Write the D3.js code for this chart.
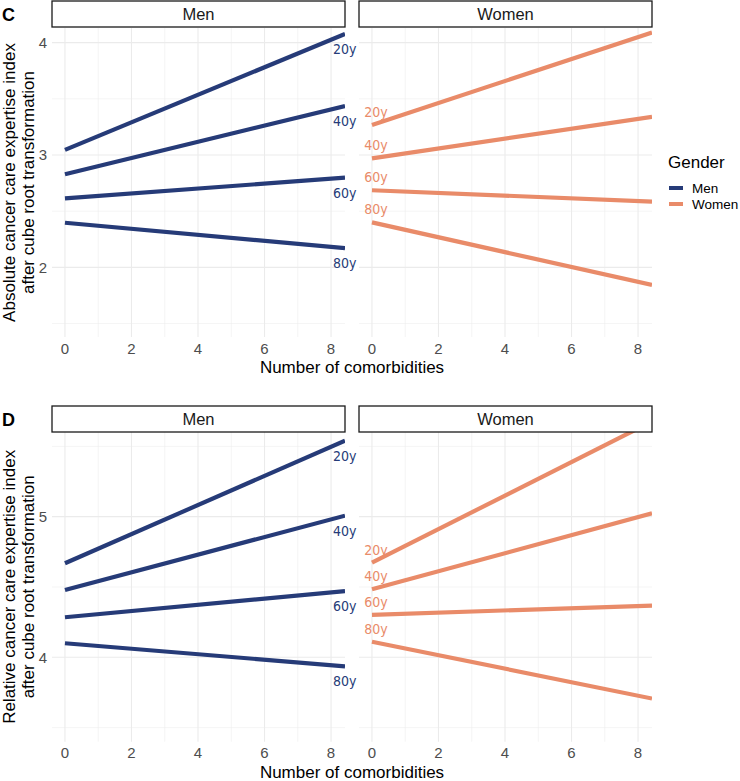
<!DOCTYPE html>
<html>
<head>
<meta charset="utf-8">
<script src="https://cdn.jsdelivr.net/npm/d3@7"></script>
<style>
	body { margin: 0; background: #fff; }
	svg { display: block; font-family: 'Liberation Sans', Arial, sans-serif; }
	.age { font-family: 'DejaVu Sans Condensed', 'DejaVu Sans', sans-serif; font-stretch: condensed; }
</style>
</head>
<body>
<svg id="chart" width="740" height="781"></svg>
<script>
// fitted lines: value at 0 comorbidities and at the right panel edge
const comorbidities = [0, 8.42]
const ageGroups = ['20y', '40y', '60y', '80y']
const genders = ['Men', 'Women']
const xTicks = [0, 2, 4, 6, 8]
const xMinor = [1, 3, 5, 7]

const absoluteMen = [[3.045, 4.077], [2.828, 3.436], [2.614, 2.798], [2.397, 2.17]]
const absoluteWomen = [[3.267, 4.09], [2.97, 3.34], [2.686, 2.585], [2.40, 1.843]]
const relativeMen = [[4.669, 5.54], [4.479, 5.007], [4.285, 4.47], [4.10, 3.936]]
const relativeWomen = [[4.673, 5.677], [4.484, 5.024], [4.302, 4.368], [4.111, 3.707]]

const absTicks = [2, 3, 4]
const absMinor = [1.5, 2.5, 3.5]
const relTicks = [4, 5]
const relMinor = [3.5, 4.5, 5.5]

const colors = { Men: '#263b78', Women: '#e98b69' }

let svg = d3.select('#chart')

// one row of the figure (C or D)
let rows = [
	{ tag: 'C', title: ['Absolute cancer care expertise index', 'after cube root transformation'],
		data: { Men: absoluteMen, Women: absoluteWomen }, ticks: absTicks, minor: absMinor,
		domain: [1.38, 4.13], top: 28, bottom: 337, strip: 1 },
	{ tag: 'D', title: ['Relative cancer care expertise index', 'after cube root transformation'],
		data: { Men: relativeMen, Women: relativeWomen }, ticks: relTicks, minor: relMinor,
		domain: [3.40, 5.602], top: 432, bottom: 741.7, strip: 406 }
]

let panelX = { Men: [52, 345], Women: [359, 652] }

rows.forEach((row, ri) => {
	let y = d3.scaleLinear().domain(row.domain).range([row.bottom, row.top])

	genders.forEach(g => {
		let x = d3.scaleLinear().domain([-0.39, 8.42]).range(panelX[g])
		let pg = svg.append('g')

		// grid
		pg.selectAll('.vminor').data(xMinor).enter().append('line')
		.attr('x1', d => x(d)).attr('x2', d => x(d))
		.attr('y1', row.top).attr('y2', row.bottom)
		.attr('stroke', '#ebebeb').attr('stroke-width', 0.55)
		pg.selectAll('.hminor').data(row.minor).enter().append('line')
		.attr('x1', panelX[g][0]).attr('x2', panelX[g][1])
		.attr('y1', d => y(d)).attr('y2', d => y(d))
		.attr('stroke', '#ebebeb').attr('stroke-width', 0.55)
		pg.selectAll('.vmajor').data(xTicks).enter().append('line')
		.attr('x1', d => x(d)).attr('x2', d => x(d))
		.attr('y1', row.top).attr('y2', row.bottom)
		.attr('stroke', '#ebebeb').attr('stroke-width', 1.1)
		pg.selectAll('.hmajor').data(row.ticks).enter().append('line')
		.attr('x1', panelX[g][0]).attr('x2', panelX[g][1])
		.attr('y1', d => y(d)).attr('y2', d => y(d))
		.attr('stroke', '#ebebeb').attr('stroke-width', 1.1)

		// clip lines to the panel
		let clipId = `clip-${ri}-${g}`
		svg.append('clipPath').attr('id', clipId)
		.append('rect')
		.attr('x', panelX[g][0]).attr('y', row.top)
		.attr('width', panelX[g][1] - panelX[g][0])
		.attr('height', row.bottom - row.top)

		let line = d3.line().x((d, i) => x(comorbidities[i])).y(d => y(d))
		pg.append('g').attr('clip-path', `url(#${clipId})`)
		.selectAll('path').data(row.data[g]).enter().append('path')
		.attr('d', d => line(d))
		.attr('fill', 'none')
		.attr('stroke', colors[g])
		.attr('stroke-width', 4.2)

		// age labels: men at the right end, women at the start
		pg.selectAll('.age').data(row.data[g]).enter().append('text')
		.attr('class', 'age')
		.attr('x', g === 'Men' ? x(8.06) : x(-0.23))
		.attr('y', d => g === 'Men' ? y(d[1]) + 20 : y(d[0]) - 8)
		.attr('fill', colors[g])
		.attr('font-size', 14)
		.text((d, i) => ageGroups[i])

		// strip
		pg.append('rect')
		.attr('x', panelX[g][0]).attr('y', row.strip)
		.attr('width', panelX[g][1] - panelX[g][0]).attr('height', 26)
		.attr('fill', '#fff').attr('stroke', '#1a1a1a').attr('stroke-width', 1.3)
		pg.append('text')
		.attr('x', (panelX[g][0] + panelX[g][1]) / 2).attr('y', row.strip + 19)
		.attr('text-anchor', 'middle').attr('font-size', 16.5).attr('fill', '#1a1a1a')
		.text(g)

		// x tick labels
		pg.selectAll('.xt').data(xTicks).enter().append('text')
		.attr('x', d => x(d)).attr('y', row.bottom + 16.5)
		.attr('text-anchor', 'middle').attr('font-size', 15).attr('fill', '#4d4d4d')
		.text(d => d)
	})

	// y tick labels
	svg.append('g').selectAll('text').data(row.ticks).enter().append('text')
	.attr('x', 47).attr('y', d => y(d) + 5.3)
	.attr('text-anchor', 'end').attr('font-size', 15).attr('fill', '#4d4d4d')
	.text(d => d)

	// y title
	let cy = (row.top + row.bottom) / 2
	row.title.forEach((t, i) => {
		svg.append('text')
		.attr('transform', `translate(${15 + i * 18.5}, ${cy}) rotate(-90)`)
		.attr('text-anchor', 'middle').attr('font-size', 17)
		.text(t)
	})

	// x title
	svg.append('text')
	.attr('x', 352).attr('y', row.bottom + 36)
	.attr('text-anchor', 'middle').attr('font-size', 17)
	.text('Number of comorbidities')

	// row tag
	svg.append('text')
	.attr('x', 2).attr('y', row.strip + 20)
	.attr('font-size', 18).attr('font-weight', 'bold')
	.text(row.tag)
})

// legend
let legend = svg.append('g').attr('transform', 'translate(668, 0)')
legend.append('text').attr('x', 0).attr('y', 168)
.attr('font-size', 17).text('Gender')
legend.selectAll('line').data(genders).enter().append('line')
.attr('x1', 1).attr('x2', 15)
.attr('y1', (d, i) => 188 + i * 16).attr('y2', (d, i) => 188 + i * 16)
.attr('stroke', d => colors[d]).attr('stroke-width', 4)
legend.selectAll('.lab').data(genders).enter().append('text')
.attr('x', 24).attr('y', (d, i) => 193 + i * 16)
.attr('font-size', 13.5).text(d => d)
</script>
</body>
</html>
